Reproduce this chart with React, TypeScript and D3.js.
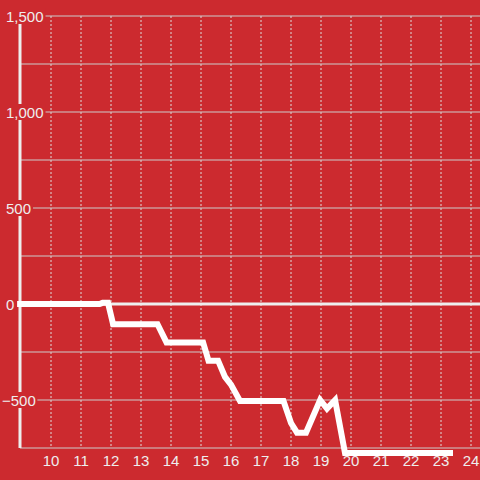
import React from "react";
import * as d3 from "d3";

const xValues = [8.87, 11.62, 11.72, 11.9, 12.07, 13.55, 13.85, 15.07, 15.25, 15.57, 15.8, 16.0, 16.3, 17.75, 18.0, 18.2, 18.5, 18.97, 19.2, 19.47, 19.8, 23.4];
const yValues = [0, 0, 6, 6, -105, -105, -200, -200, -295, -295, -380, -420, -505, -505, -620, -670, -670, -500, -545, -500, -776, -776];
const xTicks = [10, 11, 12, 13, 14, 15, 16, 17, 18, 19, 20, 21, 22, 23, 24];
const yTickLabels = [1500, 1000, 500, 0, -500];
const yGrid = [1500, 1250, 1000, 750, 500, 250, 0, -250, -500, -750];

const BG = "#cc2a2f";
const FONT = "'Liberation Sans', Arial, sans-serif";

export default function App() {
  const x = d3.scaleLinear().domain([9, 24]).range([21, 471]);
  const y = d3.scaleLinear().domain([-500, 1500]).range([400, 16]);
  const fmt = d3.format(",");
  const data = xValues.map((v, i) => [v, yValues[i]] as [number, number]);
  const line = d3.line<[number, number]>().x(d => x(d[0])).y(d => y(d[1]));
  const yTop = y(1500);
  const yBottom = y(-750);
  const charW = (s: string) => {
    let w = 0;
    for (const c of s) w += c === "," ? 4.17 : c === "-" ? 5 : 8.34;
    return w;
  };
  return (
    <svg width={480} height={480} style={{ position: "absolute", left: 0, top: 0, background: BG }}>
      <rect x={0} y={0} width={480} height={480} fill={BG} />
      {xTicks.map(t => (
        <line key={"vx" + t} x1={x(t)} x2={x(t)} y1={yTop} y2={yBottom} stroke="#dddddd" strokeWidth={1} strokeDasharray="2,2" />
      ))}
      {yGrid.map(v => (
        <line key={"hg" + v} x1={20} x2={480} y1={y(v)} y2={y(v)} stroke="#cccccc" strokeWidth={1} />
      ))}
      <line x1={20} x2={20} y1={24} y2={yBottom} stroke="#eeeeee" strokeWidth={3} />
      <line x1={20} x2={480} y1={y(0)} y2={y(0)} stroke="#eeeeee" strokeWidth={3} />
      {yTickLabels.map(v => {
        const s = fmt(v);
        const tx = v < 0 ? 2 : 6;
        const w = charW(s);
        return (
          <g key={"yl" + v}>
            <rect x={tx - 1} y={y(v) - 8} width={w + 3} height={16} fill={BG} />
            <text x={tx} y={y(v) + 6} fill="#eeeeee" fontSize={15} fontFamily={FONT}>{s}</text>
          </g>
        );
      })}
      {xTicks.map(t => (
        <text key={"xl" + t} x={x(t)} y={466} textAnchor="middle" fill="#eeeeee" fontSize={15} fontFamily={FONT}>{t}</text>
      ))}
      <path d={line(data) || ""} fill="none" stroke="#ffffff" strokeWidth={6} strokeLinejoin="miter" strokeLinecap="butt" />
    </svg>
  );
}
